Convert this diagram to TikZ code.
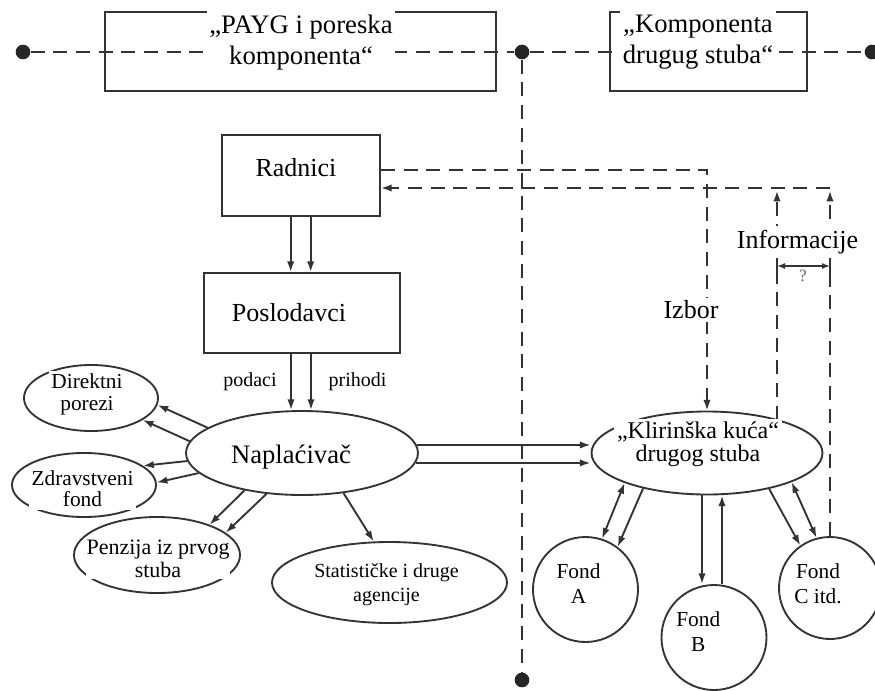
\documentclass[tikz,border=0pt]{standalone}
\usepackage{fontspec}
\setmainfont{Liberation Serif}
\usetikzlibrary{arrows.meta,shapes.geometric,calc}
\begin{document}
\begin{tikzpicture}[x=0.75pt,y=-0.75pt,
  ln/.style={line width=1.4pt, color=black!80},
  dsh/.style={ln, dash pattern=on 10.5pt off 6.5pt},
  arr/.style={ln, -{Latex[length=8pt,width=5.5pt]}},
  darr/.style={ln, {Latex[length=8pt,width=5.5pt]}-{Latex[length=8pt,width=5.5pt]}},
  sarr/.style={ln, line width=1.1pt, {Latex[length=6pt,width=4.5pt]}-{Latex[length=6pt,width=4.5pt]}},
  box/.style={draw=black!80, line width=1.4pt, rectangle, inner sep=0pt},
  ell/.style={draw=black!80, line width=1.4pt, ellipse, inner sep=0pt},
  circ/.style={draw=black!80, line width=1.4pt, circle, inner sep=0pt},
  dot/.style={circle, fill=black!85, inner sep=0pt, minimum size=11pt},
  txt/.style={align=center, inner sep=2pt, fill=white},
]
\useasboundingbox (0,0) rectangle (875,690);

% top line and dots
\node[dot] (d1) at (23,52) {};
\node[dot] (d2) at (522,52) {};
\node[dot] (d3) at (872,52) {};
\node[dot] (d4) at (522,680) {};
\draw[dsh] (d1) -- (d2) -- (d3);
\draw[dsh] (d2) -- (d4);
\node[box, minimum width=293.25pt, minimum height=59.25pt] (b1) at (300.5,51.5) {};
\node[box, minimum width=147.75pt, minimum height=59.25pt] (b2) at (708.5,51.5) {};

% boxes
\node[box, minimum width=118.5pt, minimum height=60.75pt] (rad) at (301,175.5) {};
\node[box, minimum width=147pt, minimum height=60pt] (pos) at (302,313) {};

% ellipses
\node[ell, minimum width=174pt, minimum height=63pt] (nap) at (302,453) {};
\node[ell, minimum width=100.5pt, minimum height=49.5pt] (dir) at (91,398) {};
\node[ell, minimum width=108pt, minimum height=48pt] (zdr) at (84,485) {};
\node[ell, minimum width=124.5pt, minimum height=57pt] (pen) at (157,555) {};
\node[ell, minimum width=176.25pt, minimum height=60.75pt] (stat) at (389.5,582.5) {};
\node[ell, minimum width=173.25pt, minimum height=62.25pt] (klir) at (707,453) {};

% circles
\node[circ, minimum size=78.75pt] (fa) at (585.5,589.5) {};
\node[circ, minimum size=78.75pt] (fb) at (714,637.5) {};
\node[circ, minimum size=76.5pt] (fc) at (830,588) {};

% coordinates for information lines
\coordinate (infL) at (777,188);
\coordinate (infR) at (830,188);
\coordinate (mL) at (777,266);
\coordinate (mR) at (830,266);

% Radnici -> Poslodavci
\draw[arr] ([xshift=-7.75pt]rad.south) -- ([xshift=-7.75pt]rad.south |- pos.north);
\draw[arr] ([xshift=7.25pt]rad.south) -- ([xshift=7.25pt]rad.south |- pos.north);
% Poslodavci -> Naplacivac
\draw[arr] ([xshift=-8.25pt]pos.south) -- ([xshift=-8.25pt]pos.south |- nap.north);
\draw[arr] ([xshift=6.75pt]pos.south) -- ([xshift=6.75pt]pos.south |- nap.north);

% Naplacivac -> others
\draw[arr] (nap.165) -- (dir.-6);
\draw[arr] (nap.174) -- (dir.-23);
\draw[arr] (nap.184) -- (zdr.18);
\draw[arr] (nap.191) -- (zdr.2);
\draw[arr] (nap.213) -- (pen.30);
\draw[arr] (nap.229) -- (pen.18);
\draw[arr] (nap.316) -- (stat.111);
\draw[arr] (nap.4) -- (nap.4 -| klir.west);
\draw[arr] (nap.-5) -- (nap.-5 -| klir.west);

% Klirinska kuca -> funds
\draw[darr] (klir.200) -- (fa.72);
\draw[arr] (klir.209) -- (fa.53);
\draw[arr] ([xshift=-9pt]fb.north |- klir.south) -- ([xshift=-9pt]fb.north);
\draw[arr] ([xshift=6pt]fb.north) -- ([xshift=6pt]fb.north |- klir.south);
\draw[arr] (klir.-30) -- (fc.125);
\draw[darr] (klir.-19) -- (fc.105);

% Izbor and information lines
\draw[dsh, -{Latex[length=8pt,width=5.5pt]}] ([yshift=4.1pt]rad.east) -| (klir.north);
\draw[dsh, -{Latex[length=8pt,width=5.5pt]}] (infR) -- (infR -| rad.east);
\draw[dsh, -{Latex[length=8pt,width=5.5pt]}, shorten >=2pt] (klir.25 -| infL) -- (infL);
\draw[dsh, -{Latex[length=8pt,width=5.5pt]}, shorten >=2pt] (fc.north) -- (infR);
\draw[sarr] (mL) -- (mR);
\draw[ln] ($(mL)+(0,-7)$) -- ($(mL)+(0,7)$);
\draw[ln] ($(mR)+(0,-7)$) -- ($(mR)+(0,7)$);

% texts
\node[txt, inner ysep=3pt, font=\fontsize{20}{23}\selectfont] (t1) at (301,42.5) {„PAYG i poreska\\komponenta“};
\node[txt, inner ysep=3pt, font=\fontsize{20}{23}\selectfont] (t2) at (698,42) {„Komponenta\\drugug stuba“};
\node[txt, font=\fontsize{19.5}{22}\selectfont] (trad) at (296,167.5) {Radnici};
\node[txt, font=\fontsize{19.5}{22}\selectfont] (tpos) at (289,312.5) {Poslodavci};
\node[txt, fill=none, font=\fontsize{20}{22}\selectfont] (tnap) at (291,457) {Naplaćivač};
\node[txt, font=\fontsize{16}{16.5}\selectfont] (tdir) at (87,394) {Direktni\\porezi};
\node[txt, font=\fontsize{16}{16.3}\selectfont] (tzdr) at (82.5,488.6) {Zdravstveni\\fond};
\node[txt, inner sep=0.5pt, font=\fontsize{16.5}{17.25}\selectfont] (tpen) at (158,559) {Penzija iz prvog\\stuba};
\node[txt, inner sep=1pt, font=\fontsize{15}{17.75}\selectfont] (tstat) at (386.5,585) {Statističke i druge\\agencije};
\node[txt, font=\fontsize{18}{17.5}\selectfont] (tklir) at (698,444.4) {„Klirinška kuća“\\drugog stuba};
\node[txt, font=\fontsize{16}{18.75}\selectfont] (tfa) at (578.5,583.5) {Fond\\A};
\node[txt, font=\fontsize{16}{18.75}\selectfont] (tfb) at (698.3,632) {Fond\\B};
\node[txt, font=\fontsize{16}{18.75}\selectfont] (tfc) at (818,583.5) {Fond\\C itd.};
\node[txt, font=\fontsize{19.5}{22}\selectfont] (tizb) at (691,310) {Izbor};
\node[txt, inner ysep=3pt, font=\fontsize{19.5}{22}\selectfont] (tinf) at (797.5,242) {Informacije};
\node[txt, fill=none, font=\fontsize{15}{17}\selectfont] (tpod) at (250,382) {podaci};
\node[txt, fill=none, font=\fontsize{15}{17}\selectfont] (tpri) at (357.5,382) {prihodi};
\node[txt, fill=none, text=black!60, font=\fontsize{13}{15}\selectfont] (tq) at (803,276) {?};
\end{tikzpicture}
\end{document}
